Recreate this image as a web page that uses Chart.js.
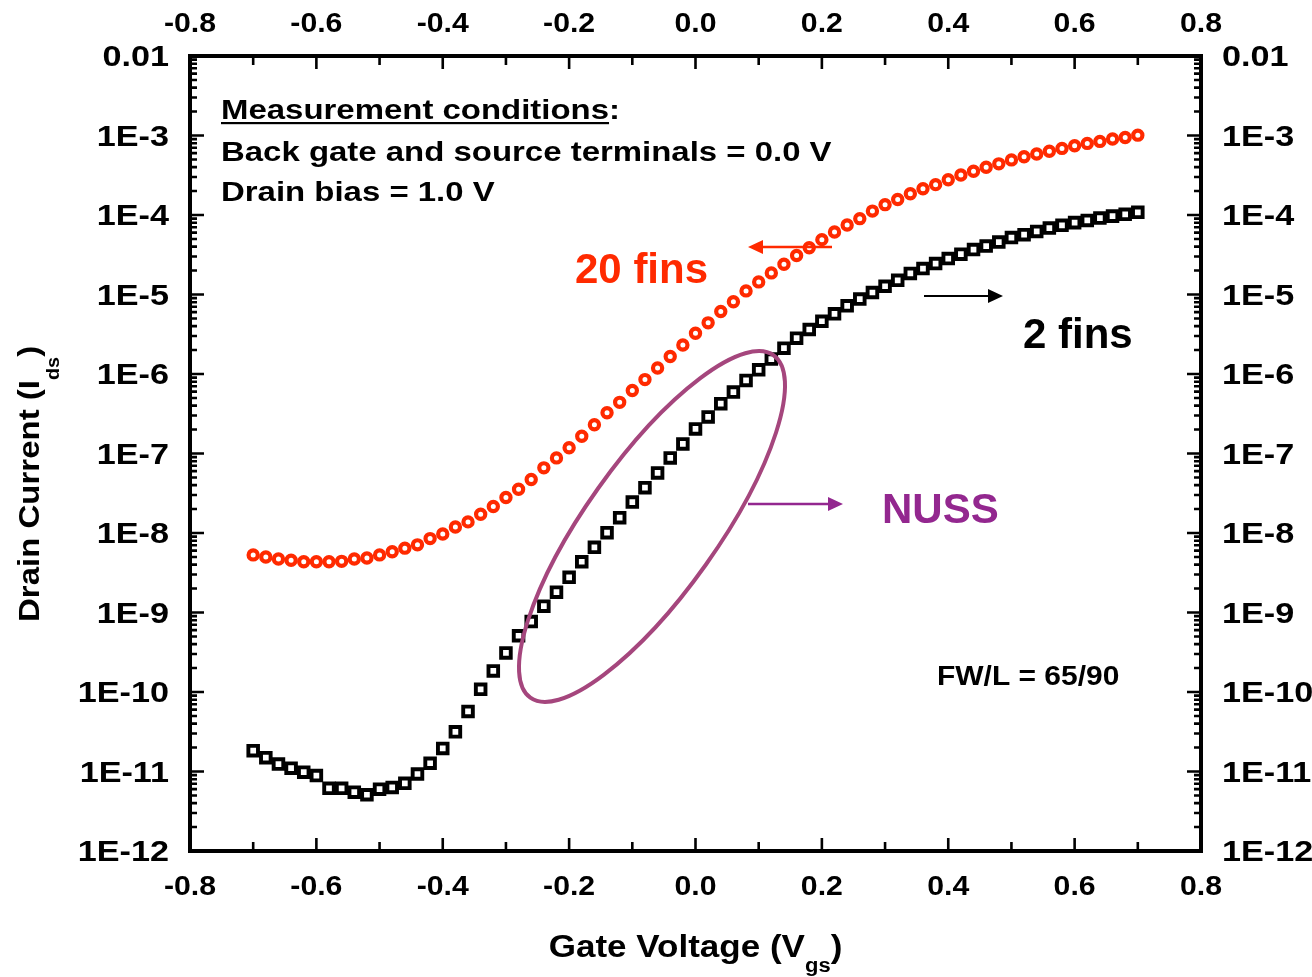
<!DOCTYPE html>
<html lang="en">
<head>
    <meta charset="UTF-8">
    <title>Drain Current vs Gate Voltage</title>
    <script src="https://cdn.jsdelivr.net/npm/chart.js"></script>
    <style>
        body { margin: 0; background: #fff; }
        canvas { display: block; }
    </style>
</head>
<body>
    <canvas id="idvgChart" width="1312" height="977"></canvas>
    <script>
        // Gate sweep (V)
        const gateVoltage = [
            -0.70, -0.68, -0.66, -0.64, -0.62, -0.60, -0.58, -0.56, -0.54, -0.52,
            -0.50, -0.48, -0.46, -0.44, -0.42, -0.40, -0.38, -0.36, -0.34, -0.32,
            -0.30, -0.28, -0.26, -0.24, -0.22, -0.20, -0.18, -0.16, -0.14, -0.12,
            -0.10, -0.08, -0.06, -0.04, -0.02, 0.00, 0.02, 0.04, 0.06, 0.08,
            0.10, 0.12, 0.14, 0.16, 0.18, 0.20, 0.22, 0.24, 0.26, 0.28,
            0.30, 0.32, 0.34, 0.36, 0.38, 0.40, 0.42, 0.44, 0.46, 0.48,
            0.50, 0.52, 0.54, 0.56, 0.58, 0.60, 0.62, 0.64, 0.66, 0.68,
            0.70
        ];

        // Drain current (A), 20 fins
        const ids20Fins = [
            5.3e-9, 5.0e-9, 4.7e-9, 4.55e-9, 4.35e-9, 4.35e-9, 4.35e-9, 4.4e-9, 4.7e-9, 4.85e-9,
            5.3e-9, 5.8e-9, 6.45e-9, 7.1e-9, 8.5e-9, 9.7e-9, 1.19e-8, 1.38e-8, 1.72e-8, 2.15e-8,
            2.8e-8, 3.55e-8, 4.7e-8, 6.6e-8, 8.8e-8, 1.18e-7, 1.65e-7, 2.3e-7, 3.25e-7, 4.4e-7,
            6.2e-7, 8.5e-7, 1.19e-6, 1.66e-6, 2.32e-6, 3.25e-6, 4.4e-6, 6.1e-6, 8.1e-6, 1.11e-5,
            1.44e-5, 1.87e-5, 2.4e-5, 3.1e-5, 3.87e-5, 4.9e-5, 6.1e-5, 7.5e-5, 9.0e-5, 1.12e-4,
            1.35e-4, 1.57e-4, 1.85e-4, 2.14e-4, 2.41e-4, 2.77e-4, 3.19e-4, 3.55e-4, 3.98e-4, 4.4e-4,
            4.93e-4, 5.4e-4, 5.85e-4, 6.33e-4, 6.88e-4, 7.44e-4, 7.95e-4, 8.43e-4, 9.03e-4, 9.45e-4,
            1.01e-3
        ];

        // Drain current (A), 2 fins
        const ids2Fins = [
            1.83e-11, 1.49e-11, 1.24e-11, 1.10e-11, 9.8e-12, 8.9e-12, 6.15e-12, 6.15e-12, 5.5e-12, 5.1e-12,
            6.0e-12, 6.3e-12, 7.1e-12, 9.3e-12, 1.27e-11, 1.95e-11, 3.16e-11, 5.7e-11, 1.08e-10, 1.84e-10,
            3.1e-10, 5.1e-10, 7.7e-10, 1.2e-9, 1.8e-9, 2.77e-9, 4.35e-9, 6.6e-9, 1.01e-8, 1.56e-8,
            2.45e-8, 3.72e-8, 5.7e-8, 8.8e-8, 1.32e-7, 2.04e-7, 2.88e-7, 4.23e-7, 5.93e-7, 8.3e-7,
            1.13e-6, 1.54e-6, 2.11e-6, 2.82e-6, 3.63e-6, 4.61e-6, 5.71e-6, 7.2e-6, 8.75e-6, 1.06e-5,
            1.27e-5, 1.51e-5, 1.84e-5, 2.12e-5, 2.45e-5, 2.83e-5, 3.21e-5, 3.67e-5, 4.07e-5, 4.57e-5,
            5.2e-5, 5.66e-5, 6.22e-5, 6.85e-5, 7.41e-5, 8.02e-5, 8.55e-5, 9.14e-5, 9.68e-5, 1.02e-4,
            1.08e-4
        ];

        const xTicks = [-0.8, -0.6, -0.4, -0.2, 0.0, 0.2, 0.4, 0.6, 0.8];
        const xTickLabels = ['-0.8', '-0.6', '-0.4', '-0.2', '0.0', '0.2', '0.4', '0.6', '0.8'];
        const yTicks = [1e-2, 1e-3, 1e-4, 1e-5, 1e-6, 1e-7, 1e-8, 1e-9, 1e-10, 1e-11, 1e-12];
        const yTickLabels = ['0.01', '1E-3', '1E-4', '1E-5', '1E-6', '1E-7', '1E-8', '1E-9', '1E-10', '1E-11', '1E-12'];

        const FONT = "'Liberation Sans', Arial, sans-serif";
        const RED = '#ff2a00';
        const PURPLE = '#93278f';
        const RING = '#a5467d';

        // bold text, widened by sx; returns the advance width
        function text(ctx, str, x, y, size, opt = {}) {
            const sx = opt.sx || 1;
            ctx.save();
            ctx.font = 'bold ' + size + 'px ' + FONT;
            ctx.fillStyle = opt.color || '#000';
            ctx.textBaseline = 'alphabetic';
            ctx.textAlign = 'left';
            const w = ctx.measureText(str).width * sx;
            let x0 = x;
            if (opt.align === 'center') x0 = x - w / 2;
            if (opt.align === 'right') x0 = x - w;
            ctx.translate(x0, y);
            ctx.scale(sx, 1);
            ctx.fillText(str, 0, 0);
            ctx.restore();
            return w;
        }

        // runs of text with subscripts: [{t, size, dy, sx}]
        function runsWidth(ctx, runs) {
            let w = 0;
            runs.forEach(r => {
                ctx.save();
                ctx.font = 'bold ' + r.size + 'px ' + FONT;
                w += ctx.measureText(r.t).width * (r.sx || 1);
                ctx.restore();
            });
            return w;
        }

        function drawRuns(ctx, runs, x, y) {
            let cx = x;
            runs.forEach(r => {
                cx += text(ctx, r.t, cx, y + (r.dy || 0), r.size, { sx: r.sx });
            });
        }

        function arrow(ctx, x1, y1, x2, y2, color, lw) {
            const ang = Math.atan2(y2 - y1, x2 - x1);
            const head = 15, half = 7;
            ctx.save();
            ctx.strokeStyle = color;
            ctx.fillStyle = color;
            ctx.lineWidth = lw;
            ctx.beginPath();
            ctx.moveTo(x1, y1);
            ctx.lineTo(x2 - head * Math.cos(ang), y2 - head * Math.sin(ang));
            ctx.stroke();
            ctx.translate(x2, y2);
            ctx.rotate(ang);
            ctx.beginPath();
            ctx.moveTo(0, 0);
            ctx.lineTo(-head, -half);
            ctx.lineTo(-head, half);
            ctx.closePath();
            ctx.fill();
            ctx.restore();
        }

        // frame, inward ticks, tick labels and axis titles
        const axesFrame = {
            id: 'axesFrame',
            beforeDatasetsDraw(chart) {
                const ctx = chart.ctx;
                const a = chart.chartArea;
                const xs = chart.scales.x;
                const ys = chart.scales.y;

                ctx.save();
                ctx.strokeStyle = '#000';
                ctx.lineCap = 'butt';

                // x ticks, bottom and top
                ctx.lineWidth = 2.6;
                const xMinor = [];
                for (let i = 0; i < xTicks.length - 1; i++) xMinor.push((xTicks[i] + xTicks[i + 1]) / 2);
                ctx.beginPath();
                xTicks.forEach(v => {
                    const px = xs.getPixelForValue(v);
                    ctx.moveTo(px, a.bottom); ctx.lineTo(px, a.bottom - 13);
                    ctx.moveTo(px, a.top); ctx.lineTo(px, a.top + 13);
                });
                xMinor.forEach(v => {
                    const px = xs.getPixelForValue(v);
                    ctx.moveTo(px, a.bottom); ctx.lineTo(px, a.bottom - 9);
                    ctx.moveTo(px, a.top); ctx.lineTo(px, a.top + 9);
                });
                ctx.stroke();

                // y ticks, left and right
                ctx.beginPath();
                yTicks.forEach(v => {
                    const py = ys.getPixelForValue(v);
                    ctx.moveTo(a.left, py); ctx.lineTo(a.left + 14, py);
                    ctx.moveTo(a.right, py); ctx.lineTo(a.right - 14, py);
                });
                yTicks.slice(1).forEach(d => {
                    for (let k = 2; k <= 9; k++) {
                        const py = ys.getPixelForValue(k * d);
                        ctx.moveTo(a.left, py); ctx.lineTo(a.left + 7, py);
                        ctx.moveTo(a.right, py); ctx.lineTo(a.right - 7, py);
                    }
                });
                ctx.stroke();

                // frame
                ctx.lineWidth = 4;
                ctx.strokeRect(a.left, a.top, a.right - a.left, a.bottom - a.top);
                ctx.restore();

                // tick labels
                xTicks.forEach((v, i) => {
                    const px = xs.getPixelForValue(v);
                    text(ctx, xTickLabels[i], px, a.bottom + 44, 28, { align: 'center', sx: 1.08 });
                    text(ctx, xTickLabels[i], px, a.top - 24, 28, { align: 'center', sx: 1.08 });
                });
                yTicks.forEach((v, i) => {
                    const py = ys.getPixelForValue(v);
                    text(ctx, yTickLabels[i], a.left - 21, py + 10, 30, { align: 'right', sx: 1.14 });
                    text(ctx, yTickLabels[i], a.right + 21, py + 10, 30, { sx: 1.14 });
                });

                // axis titles
                const xTitle = [
                    { t: 'Gate Voltage (V', size: 31, sx: 1.13 },
                    { t: 'gs', size: 20, dy: 15, sx: 1.1 },
                    { t: ')', size: 31, sx: 1.13 }
                ];
                const xw = runsWidth(ctx, xTitle);
                drawRuns(ctx, xTitle, (a.left + a.right) / 2 - xw / 2, 957);

                const yTitle = [
                    { t: 'Drain Current (I', size: 30, sx: 1.1 },
                    { t: 'ds', size: 18, dy: 20, sx: 1.1 },
                    { t: ')', size: 30, sx: 1.1 }
                ];
                ctx.save();
                ctx.translate(39, 622);
                ctx.rotate(-Math.PI / 2);
                drawRuns(ctx, yTitle, 0, 0);
                ctx.restore();
            },
            afterDatasetsDraw(chart) {
                const ctx = chart.ctx;

                // measurement conditions block
                const w = text(ctx, 'Measurement conditions', 221, 119, 27, { sx: 1.22 });
                text(ctx, ':', 221 + w, 119, 27, { sx: 1.22 });
                ctx.save();
                ctx.fillStyle = '#000';
                ctx.fillRect(221, 122, w, 2.2);
                ctx.restore();
                text(ctx, 'Back gate and source terminals = 0.0 V', 221, 161, 27, { sx: 1.22 });
                text(ctx, 'Drain bias = 1.0 V', 221, 201, 27, { sx: 1.22 });

                // series labels
                text(ctx, '20 fins', 575, 283, 42, { color: RED });
                arrow(ctx, 832, 247, 748, 247, RED, 2.6);
                text(ctx, '2 fins', 1023, 348, 42);
                arrow(ctx, 924, 296, 1003, 296, '#000', 2.2);

                // NUSS region
                ctx.save();
                ctx.strokeStyle = RING;
                ctx.lineWidth = 4;
                ctx.beginPath();
                ctx.ellipse(652, 526.5, 210, 66, -54.6 * Math.PI / 180, 0, Math.PI * 2);
                ctx.stroke();
                ctx.restore();
                arrow(ctx, 748, 504, 843, 504, PURPLE, 2.6);
                text(ctx, 'NUSS', 882, 523, 42, { color: PURPLE });

                text(ctx, 'FW/L = 65/90', 937, 685, 28, { sx: 1.07 });
            }
        };

        const hiddenAxis = {
            grid: { display: false },
            border: { display: false },
            ticks: { display: false },
            title: { display: false }
        };

        new Chart(document.getElementById('idvgChart'), {
            type: 'scatter',
            data: {
                datasets: [
                    {
                        label: '20 fins',
                        data: gateVoltage.map((v, i) => ({ x: v, y: ids20Fins[i] })),
                        pointStyle: 'circle',
                        pointRadius: 4.6,
                        pointHoverRadius: 4.6,
                        borderWidth: 4.2,
                        borderColor: RED,
                        backgroundColor: '#fff',
                        xAxisID: 'x',
                        yAxisID: 'y'
                    },
                    {
                        label: '2 fins',
                        data: gateVoltage.map((v, i) => ({ x: v, y: ids2Fins[i] })),
                        pointStyle: 'rect',
                        pointRadius: 6.8,
                        pointHoverRadius: 6.8,
                        borderWidth: 3.9,
                        borderColor: '#000',
                        backgroundColor: '#fff',
                        xAxisID: 'x',
                        yAxisID: 'y'
                    }
                ]
            },
            options: {
                responsive: false,
                animation: false,
                layout: { padding: 0 },
                plugins: {
                    legend: { display: false },
                    tooltip: { enabled: false }
                },
                scales: {
                    x: {
                        ...hiddenAxis,
                        type: 'linear', position: 'bottom', min: -0.8, max: 0.8,
                        afterBuildTicks: s => { s.ticks = xTicks.map(v => ({ value: v })); },
                        afterFit: s => { s.height = 126; }
                    },
                    xTop: {
                        ...hiddenAxis,
                        type: 'linear', position: 'top', min: -0.8, max: 0.8,
                        afterBuildTicks: s => { s.ticks = xTicks.map(v => ({ value: v })); },
                        afterFit: s => { s.height = 56; }
                    },
                    y: {
                        ...hiddenAxis,
                        type: 'logarithmic', position: 'left', min: 1e-12, max: 1e-2,
                        afterBuildTicks: s => { s.ticks = yTicks.map(v => ({ value: v })); },
                        afterFit: s => { s.width = 190; }
                    },
                    yRight: {
                        ...hiddenAxis,
                        type: 'logarithmic', position: 'right', min: 1e-12, max: 1e-2,
                        afterBuildTicks: s => { s.ticks = yTicks.map(v => ({ value: v })); },
                        afterFit: s => { s.width = 111; }
                    }
                }
            },
            plugins: [axesFrame]
        });
    </script>
</body>
</html>
